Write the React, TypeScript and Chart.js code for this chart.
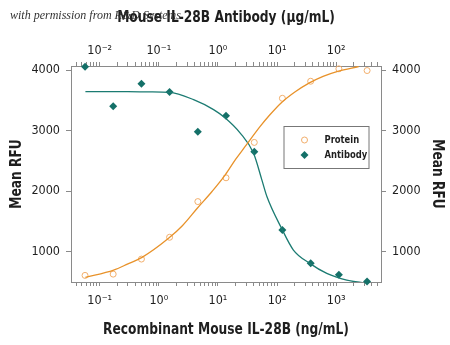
import React, { useEffect, useRef } from 'react';
import { Chart, registerables } from 'chart.js';

Chart.register(...registerables);

// Recombinant Mouse IL-28B (ng/mL) — bottom axis
const proteinConc = [0.0565, 0.169, 0.508, 1.52, 4.57, 13.7, 41.2, 123, 370, 1111, 3333];
const proteinRFU = [609, 630, 879, 1239, 1829, 2222, 2807, 3536, 3818, 4023, 3995];

// Mouse IL-28B Antibody (µg/mL) — top axis
const antibodyConc = [0.00565, 0.0169, 0.0508, 0.152, 0.457, 1.37, 4.12, 12.3, 37.0, 111, 333];
const antibodyRFU = [4056, 3403, 3775, 3642, 2984, 3249, 2652, 1360, 808, 619, 509];

// fitted curves
const proteinFitConc = [0.0573, 0.172, 0.3, 0.52, 1.46, 2.5, 4.47, 8, 13.3, 20, 28.9, 51.8, 75, 117, 200, 352, 600, 1064, 2400];
const proteinFitRFU = [576, 697, 800, 907, 1222, 1430, 1719, 2000, 2271, 2530, 2740, 3072, 3260, 3460, 3640, 3791, 3900, 3983, 4060];

const antibodyFitConc = [0.00573, 0.03, 0.07, 0.15, 0.387, 0.843, 1.33, 2.38, 3.99, 5.53, 6.73, 11.9, 18.9, 35.8, 69.3, 151, 316];
const antibodyFitRFU = [3646, 3645, 3642, 3635, 3514, 3349, 3211, 2962, 2631, 2188, 1912, 1388, 1028, 808, 642, 531, 481];

const yTickValues = [1000, 2000, 3000, 4000];
const bottomRange = [0.0327, 5728];
const topRange = [0.00327, 572.8];
const yRange = [500, 4070];

const legendLabels = ['Protein', 'Antibody'];
const bottomTitle = 'Recombinant Mouse IL-28B (ng/mL)';
const topTitle = 'Mouse IL-28B Antibody (\u00b5g/mL)';
const yTitle = 'Mean RFU';
const watermark = 'with permission from R&D Systems';

const ORANGE = '#E8922A';
const ORANGE_PT = '#F2AE6B';
const TEAL = '#1B7B72';
const TEAL_PT = '#147068';
const FRAME = '#8a8a8a';
const TEXT = '#1e1e1e';
const FONT = "'Liberation Sans Narrow', 'DejaVu Sans Condensed', 'Liberation Sans', sans-serif";
const TITLE_SX = 0.825;

const SUP: Record<string, string> = { '-': '\u207b', '0': '\u2070', '1': '\u00b9', '2': '\u00b2', '3': '\u00b3' };
function powLabel(v: number): string {
  const l = Math.log10(v);
  const r = Math.round(l);
  if (Math.abs(l - r) > 1e-6) return '';
  return '10' + String(r).split('').map((c) => SUP[c] || c).join('');
}
function keepLogTicks(scale: any) {
  scale.ticks = scale.ticks.filter((t: any) => {
    const l = Math.log10(t.value);
    const e = Math.floor(l + 1e-9);
    const s = t.value / Math.pow(10, e);
    return Math.abs(s - Math.round(s)) < 1e-6;
  });
}

function drawNarrow(ctx: any, text: string, x: number, y: number, rot: number) {
  ctx.save();
  ctx.translate(x, y);
  ctx.rotate(rot);
  ctx.scale(TITLE_SX, 1);
  ctx.fillText(text, 0, 0);
  ctx.restore();
}

const overlayPlugin = {
  id: 'overlay',
  afterDraw(chart: any) {
    const ctx = chart.ctx;
    const area = chart.chartArea;
    ctx.save();
    // axis titles (narrow, like the condensed face in the original)
    ctx.fillStyle = TEXT;
    ctx.font = `bold 16.5px ${FONT}`;
    ctx.textAlign = 'center';
    ctx.textBaseline = 'middle';
    const cx = (area.left + area.right) / 2;
    const cy = (area.top + area.bottom) / 2;
    drawNarrow(ctx, topTitle, cx, 18, 0);
    drawNarrow(ctx, bottomTitle, cx, 330, 0);
    drawNarrow(ctx, yTitle, 17, cy, -Math.PI / 2);
    drawNarrow(ctx, yTitle, chart.width - 13, cy, Math.PI / 2);

    // legend box
    const bx = area.left + 212.5;
    const by = area.top + 60;
    const bw = 85;
    const bh = 42;
    ctx.fillStyle = '#ffffff';
    ctx.fillRect(bx, by, bw, bh);
    ctx.strokeStyle = '#777777';
    ctx.lineWidth = 1;
    ctx.strokeRect(bx + 0.5, by + 0.5, bw, bh);
    const rows = [by + 14, by + 29];
    ctx.beginPath();
    ctx.arc(bx + 21, rows[0], 3, 0, Math.PI * 2);
    ctx.strokeStyle = ORANGE_PT;
    ctx.lineWidth = 1;
    ctx.stroke();
    ctx.beginPath();
    const r = 4;
    ctx.moveTo(bx + 21, rows[1] - r);
    ctx.lineTo(bx + 21 + r, rows[1]);
    ctx.lineTo(bx + 21, rows[1] + r);
    ctx.lineTo(bx + 21 - r, rows[1]);
    ctx.closePath();
    ctx.fillStyle = TEAL_PT;
    ctx.fill();
    ctx.fillStyle = TEXT;
    ctx.font = `bold 11px ${FONT}`;
    ctx.textAlign = 'left';
    ctx.textBaseline = 'middle';
    ctx.save();
    ctx.translate(bx + 41, 0);
    ctx.scale(0.85, 1);
    ctx.fillText(legendLabels[0], 0, rows[0]);
    ctx.fillText(legendLabels[1], 0, rows[1]);
    ctx.restore();

    // watermark
    ctx.font = "italic 12px 'Liberation Serif', 'DejaVu Serif', serif";
    ctx.fillStyle = '#333333';
    ctx.textAlign = 'left';
    ctx.textBaseline = 'alphabetic';
    ctx.fillText(watermark, 10, 19);
    ctx.restore();
  },
};

export default function App() {
  const ref = useRef<HTMLCanvasElement | null>(null);
  useEffect(() => {
    if (!ref.current) return;
    const tickFont = { family: FONT, size: 12.5 };
    const chart = new Chart(ref.current, {
      type: 'scatter',
      data: {
        datasets: [
          {
            label: 'Protein fit',
            type: 'line',
            data: proteinFitConc.map((x, i) => ({ x, y: proteinFitRFU[i] })),
            xAxisID: 'x',
            yAxisID: 'y',
            borderColor: ORANGE,
            borderWidth: 1.3,
            pointRadius: 0,
            fill: false,
            cubicInterpolationMode: 'monotone',
          },
          {
            label: 'Antibody fit',
            type: 'line',
            data: antibodyFitConc.map((x, i) => ({ x, y: antibodyFitRFU[i] })),
            xAxisID: 'x2',
            yAxisID: 'y',
            borderColor: TEAL,
            borderWidth: 1.3,
            pointRadius: 0,
            fill: false,
            cubicInterpolationMode: 'monotone',
          },
          {
            label: legendLabels[0],
            data: proteinConc.map((x, i) => ({ x, y: proteinRFU[i] })),
            xAxisID: 'x',
            yAxisID: 'y',
            pointStyle: 'circle',
            pointRadius: 3,
            pointBorderWidth: 1,
            pointBorderColor: ORANGE_PT,
            pointBackgroundColor: 'rgba(255,255,255,0)',
            clip: false,
          },
          {
            label: legendLabels[1],
            data: antibodyConc.map((x, i) => ({ x, y: antibodyRFU[i] })),
            xAxisID: 'x2',
            yAxisID: 'y',
            pointStyle: 'rectRot',
            pointRadius: 4,
            pointBorderWidth: 0,
            pointBackgroundColor: TEAL_PT,
            pointBorderColor: TEAL_PT,
            clip: false,
          },
        ],
      },
      options: {
        responsive: false,
        animation: false,
        devicePixelRatio: 1,
        layout: { padding: 0, autoPadding: false },
        plugins: { legend: { display: false }, tooltip: { enabled: false } },
        scales: {
          x: {
            type: 'logarithmic',
            position: 'bottom',
            min: bottomRange[0],
            max: bottomRange[1],
            afterBuildTicks: keepLogTicks,
            afterFit: (s: any) => { s.height = 63; },
            border: { display: true, color: FRAME, width: 1 },
            grid: { display: true, drawOnChartArea: false, tickLength: 4, color: FRAME, tickColor: FRAME },
            ticks: {
              autoSkip: false,
              maxRotation: 0,
              padding: 7,
              color: TEXT,
              font: tickFont,
              callback: (v: any) => powLabel(Number(v)),
            },
          },
          x2: {
            type: 'logarithmic',
            position: 'top',
            min: topRange[0],
            max: topRange[1],
            afterBuildTicks: keepLogTicks,
            afterFit: (s: any) => { s.height = 66; },
            border: { display: true, color: FRAME, width: 1 },
            grid: { display: true, drawOnChartArea: false, tickLength: 4, color: FRAME, tickColor: FRAME },
            ticks: {
              autoSkip: false,
              maxRotation: 0,
              padding: 4,
              color: TEXT,
              font: tickFont,
              callback: (v: any) => powLabel(Number(v)),
            },
          },
          y: {
            type: 'linear',
            position: 'left',
            min: yRange[0],
            max: yRange[1],
            afterBuildTicks: (s: any) => { s.ticks = yTickValues.map((value) => ({ value })); },
            afterFit: (s: any) => { s.width = 71; },
            border: { display: true, color: FRAME, width: 1 },
            grid: { display: true, drawOnChartArea: false, tickLength: 5, color: FRAME, tickColor: FRAME },
            ticks: { padding: 6, color: TEXT, font: tickFont, callback: (v: any) => String(v) },
          },
          y2: {
            type: 'linear',
            position: 'right',
            min: yRange[0],
            max: yRange[1],
            afterBuildTicks: (s: any) => { s.ticks = yTickValues.map((value) => ({ value })); },
            afterFit: (s: any) => { s.width = 69; },
            border: { display: true, color: FRAME, width: 1 },
            grid: { display: true, drawOnChartArea: false, tickLength: 5, color: FRAME, tickColor: FRAME },
            ticks: { padding: 6, color: TEXT, font: tickFont, callback: (v: any) => String(v) },
          },
        },
      } as any,
      plugins: [overlayPlugin],
    });
    return () => chart.destroy();
  }, []);
  return (
    <div style={{ position: 'absolute', left: 0, top: 0, width: 450, height: 345, background: '#fff' }}>
      <canvas ref={ref} width={450} height={345} />
    </div>
  );
}
